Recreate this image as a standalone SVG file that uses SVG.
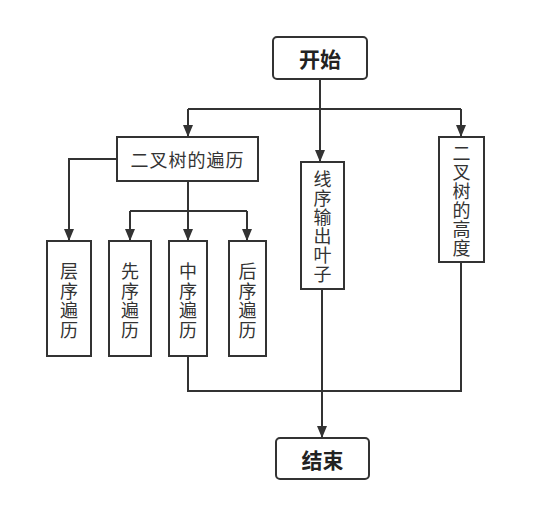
<svg xmlns="http://www.w3.org/2000/svg" width="545" height="528" viewBox="0 0 545 528">
<style>
.box{fill:#fff;stroke:#333;stroke-width:2}
.t{font-family:"Noto Sans CJK SC","Noto Sans",sans-serif;font-size:18px;fill:#333;text-anchor:middle;dominant-baseline:central}
.tb{font-family:"Noto Sans CJK SC","Noto Sans",sans-serif;font-size:21px;font-weight:bold;fill:#222;text-anchor:middle;dominant-baseline:central}
.ln{fill:none;stroke:#333;stroke-width:2}
</style>
<defs>
<marker id="ah" viewBox="0 0 12 10" refX="12" refY="5" markerWidth="12" markerHeight="10" markerUnits="userSpaceOnUse" orient="auto">
<path d="M0,0 L12,5 L0,10 z" fill="#333"/>
</marker>
</defs>
<rect width="545" height="528" fill="#fff"/>
<g id="connectors">
<path class="ln" d="M320,79 V162" marker-end="url(#ah)"/>
<path class="ln" d="M188,109 H461"/>
<path class="ln" d="M188,109 V137" marker-end="url(#ah)"/>
<path class="ln" d="M461,109 V137" marker-end="url(#ah)"/>
<path class="ln" d="M117,159 H69 V241" marker-end="url(#ah)"/>
<path class="ln" d="M188,181 V241" marker-end="url(#ah)"/>
<path class="ln" d="M130,211 H247"/>
<path class="ln" d="M130,211 V241" marker-end="url(#ah)"/>
<path class="ln" d="M247,211 V241" marker-end="url(#ah)"/>
<path class="ln" d="M188,356 V391 H461 V262"/>
<path class="ln" d="M322,289 V391" stroke-width="2.5"/>
<path class="ln" d="M322,391 V438" stroke-width="4" marker-end="url(#ah)"/>
</g>
<g id="start">
<rect class="box" x="273" y="37" width="94" height="42" rx="4"/>
<text class="tb" x="320" y="58">开始</text>
</g>
<g id="traverse">
<rect class="box" x="117" y="137" width="141" height="44"/>
<text class="t" x="187.5" y="159" letter-spacing="1">二叉树的遍历</text>
</g>
<g id="level">
<rect class="box" x="47" y="241" width="44" height="115"/>
<text class="t" x="69"><tspan x="69" y="270">层</tspan><tspan x="69" y="289.5">序</tspan><tspan x="69" y="309">遍</tspan><tspan x="69" y="328.5">历</tspan></text>
</g>
<g id="pre">
<rect class="box" x="109" y="241" width="42" height="115"/>
<text class="t" x="130"><tspan x="130" y="270">先</tspan><tspan x="130" y="289.5">序</tspan><tspan x="130" y="309">遍</tspan><tspan x="130" y="328.5">历</tspan></text>
</g>
<g id="in">
<rect class="box" x="169" y="241" width="38" height="115"/>
<text class="t" x="188"><tspan x="188" y="270">中</tspan><tspan x="188" y="289.5">序</tspan><tspan x="188" y="309">遍</tspan><tspan x="188" y="328.5">历</tspan></text>
</g>
<g id="post">
<rect class="box" x="229" y="241" width="37" height="115"/>
<text class="t" x="247.5"><tspan x="247.5" y="270">后</tspan><tspan x="247.5" y="289.5">序</tspan><tspan x="247.5" y="309">遍</tspan><tspan x="247.5" y="328.5">历</tspan></text>
</g>
<g id="leaves">
<rect class="box" x="301" y="162" width="43" height="127"/>
<text class="t" x="322.5"><tspan x="322.5" y="178">线</tspan><tspan x="322.5" y="197">序</tspan><tspan x="322.5" y="216">输</tspan><tspan x="322.5" y="235">出</tspan><tspan x="322.5" y="254">叶</tspan><tspan x="322.5" y="273">子</tspan></text>
</g>
<g id="height">
<rect class="box" x="439" y="137" width="45" height="125"/>
<text class="t" x="461.5"><tspan x="461.5" y="152">二</tspan><tspan x="461.5" y="171">叉</tspan><tspan x="461.5" y="190">树</tspan><tspan x="461.5" y="209">的</tspan><tspan x="461.5" y="228">高</tspan><tspan x="461.5" y="247">度</tspan></text>
</g>
<g id="end">
<rect class="box" x="276" y="438" width="93" height="41" rx="4"/>
<text class="tb" x="322.5" y="458.5">结束</text>
</g>
</svg>
